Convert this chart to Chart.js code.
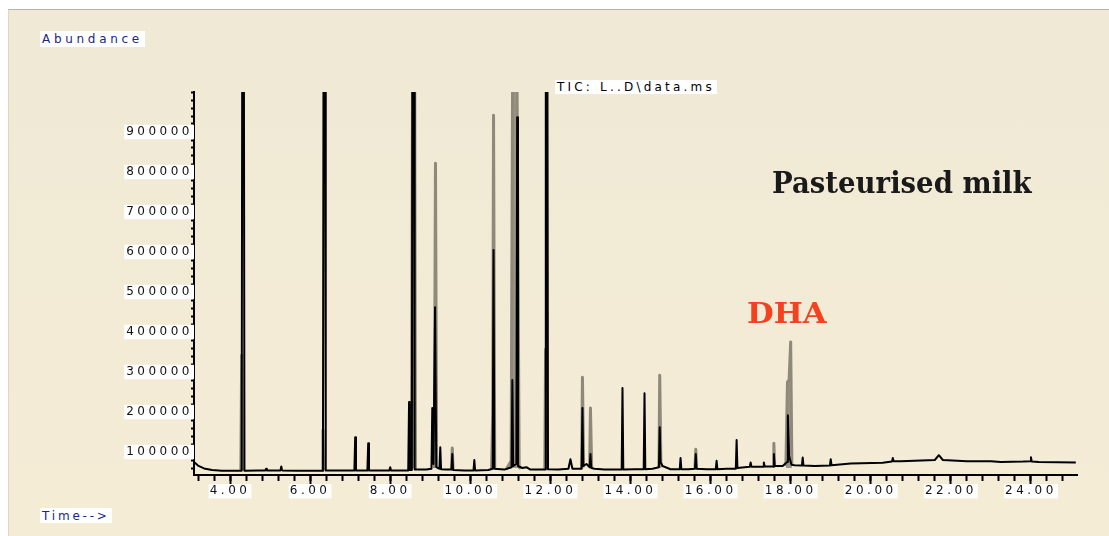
<!DOCTYPE html>
<html><head><meta charset="utf-8">
<script src="https://cdn.jsdelivr.net/npm/chart.js@4.4.0/dist/chart.umd.min.js"></script>
<style>
html,body{margin:0;padding:0;background:#fff;width:1109px;height:536px;overflow:hidden;}
#panel{position:absolute;left:8px;top:9px;width:1101px;height:527px;background:linear-gradient(#efe9d5,#f5ecd6);border-top:1px solid #b8b4a8;border-left:1px solid #dcd6c4;box-sizing:border-box;}
#c{position:absolute;left:0;top:0;}
.lbl{position:absolute;white-space:nowrap;line-height:1;}
.box{background:#fff;font-family:"DejaVu Sans",sans-serif;font-size:12px;}
#abund{left:40px;top:31px;height:16px;padding:2px 2px 0 2px;box-sizing:border-box;color:#1d2585;letter-spacing:3.7px;}
#time{left:40px;top:508px;height:15px;padding:2px 2px 0 2px;box-sizing:border-box;color:#1d2585;letter-spacing:2.8px;}
#tic{left:555px;top:80px;height:14px;padding:1px 2px 0 2px;box-sizing:border-box;color:#000;letter-spacing:3.2px;}
#title{left:772px;top:168.5px;font-family:"DejaVu Serif",serif;font-weight:bold;font-size:29px;color:#1a1a1a;transform:scaleX(0.95);transform-origin:0 0;}
#dha{left:747px;top:299.5px;font-family:"DejaVu Serif",serif;font-weight:bold;font-size:28px;color:#f4411f;transform:scaleX(1.1);transform-origin:0 0;}
</style></head>
<body>
<div id="panel"></div>
<canvas id="c" width="1109" height="536"></canvas>
<div class="lbl box" id="abund">Abundance</div>
<div class="lbl box" id="time">Time--&gt;</div>
<div class="lbl box" id="tic">TIC: L..D\data.ms</div>
<div class="lbl" id="title">Pasteurised milk</div>
<div class="lbl" id="dha">DHA</div>
<script>
// ---- data (retention time in min, abundance) ----
const blackTime = [
  3.10, 3.20, 3.35, 3.55, 3.80, 4.29, 4.305, 4.345, 4.36, 4.70,
  4.88, 4.90, 4.92, 5.26, 5.28, 5.30, 5.70, 6.32, 6.335, 6.375,
  6.39, 6.80, 7.105, 7.125, 7.145, 7.43, 7.45, 7.47, 7.98, 8.00,
  8.02, 8.45, 8.47, 8.49, 8.54, 8.555, 8.595, 8.61, 8.90, 9.03,
  9.05, 9.08, 9.12, 9.15, 9.23, 9.25, 9.27, 9.40, 9.53, 9.55,
  9.57, 9.85, 10.08, 10.10, 10.12, 10.45, 10.56, 10.58, 10.60, 10.85,
  11.03, 11.05, 11.07, 11.15, 11.17, 11.19, 11.30, 11.40, 11.50, 11.87,
  11.885, 11.925, 11.94, 12.20, 12.45, 12.50, 12.55, 12.78, 12.80, 12.82,
  12.90, 12.98, 13.00, 13.02, 13.10, 13.35, 13.78, 13.80, 13.82, 14.10,
  14.33, 14.35, 14.37, 14.55, 14.71, 14.73, 14.75, 14.80, 15.00, 15.23,
  15.25, 15.27, 15.45, 15.61, 15.63, 15.65, 15.90, 16.13, 16.15, 16.17,
  16.40, 16.63, 16.65, 16.67, 16.85, 16.98, 17.00, 17.02, 17.31, 17.33,
  17.35, 17.45, 17.56, 17.58, 17.60, 17.80, 17.91, 17.93, 17.96, 18.02,
  18.10, 18.28, 18.30, 18.32, 18.60, 18.98, 19.00, 19.02, 19.50, 20.30,
  20.53, 20.55, 20.57, 20.75, 21.60, 21.70, 21.80, 22.40, 23.00, 23.25,
  23.80, 23.98, 24.00, 24.02, 24.20, 25.12
];
const blackAbundance = [
  75000, 66000, 59000, 55000, 53000, 53000, 1150000, 1150000, 53000, 54000,
  54000, 58000, 54000, 54000, 64000, 54000, 53000, 53000, 1150000, 1150000,
  54000, 54000, 54000, 137000, 54000, 54000, 122000, 54000, 54000, 62000,
  54000, 54000, 225000, 55000, 55000, 1150000, 1150000, 56000, 56000, 58000,
  210000, 70000, 462000, 62000, 58000, 112000, 57000, 56000, 56000, 95000,
  55000, 54000, 54000, 80000, 54000, 55000, 58000, 605000, 58000, 56000,
  62000, 280000, 65000, 70000, 937000, 65000, 60000, 62000, 56000, 56000,
  1150000, 1150000, 57000, 56000, 58000, 82000, 58000, 58000, 210000, 65000,
  70000, 62000, 95000, 60000, 58000, 56000, 56000, 260000, 56000, 57000,
  57000, 247000, 57000, 58000, 62000, 162000, 75000, 65000, 57000, 57000,
  85000, 57000, 57000, 58000, 95000, 58000, 57000, 57000, 78000, 57000,
  58000, 58000, 130000, 60000, 62000, 63000, 74000, 63000, 63000, 74000,
  64000, 64000, 64000, 95000, 65000, 65000, 75000, 192000, 90000, 68000,
  67000, 66000, 86000, 66000, 65000, 66000, 82000, 67000, 71000, 73000,
  76000, 85000, 77000, 77000, 80000, 92000, 80000, 77000, 77000, 75000,
  76000, 77000, 87000, 76000, 75000, 74000
];
// lighter (grey) trace, drawn only around the peaks (null = no trace)
const greyTime = [
  4.27, 4.29, 4.31, 4.32,
  6.31, 6.32, 6.34, 6.35,
  8.53, 8.56, 8.61, 8.63, 8.64,
  9.10, 9.13, 9.16, 9.17,
  9.53, 9.55, 9.57, 9.58,
  10.53, 10.56, 10.58, 10.61, 10.62,
  10.90, 11.02, 11.06, 11.16, 11.22, 11.26, 11.27,
  11.86, 11.88, 11.90, 11.91,
  12.78, 12.80, 12.83, 12.84,
  12.98, 13.00, 13.03, 13.04,
  14.71, 14.73, 14.76, 14.77,
  15.61, 15.63, 15.65, 15.66,
  17.56, 17.58, 17.60, 17.61,
  17.88, 17.92, 17.96, 18.00, 18.03
];
const greyAbundance = [
  53000, 342000, 53000, null,
  54000, 155000, 54000, null,
  56000, 1150000, 1150000, 56000, null,
  60000, 822000, 60000, null,
  56000, 110000, 56000, null,
  58000, 197000, 942000, 58000, null,
  57000, 78000, 1150000, 1150000, 62000, 58000, null,
  56000, 357000, 56000, null,
  58000, 287000, 62000, null,
  62000, 210000, 60000, null,
  62000, 292000, 62000, null,
  58000, 107000, 58000, null,
  64000, 122000, 64000, null,
  65000, 275000, 280000, 375000, 70000
];
const xMajorTicks = [4, 6, 8, 10, 12, 14, 16, 18, 20, 22, 24];
const xTickLabels = ['4.00', '6.00', '8.00', '10.00', '12.00', '14.00', '16.00', '18.00', '20.00', '22.00', '24.00'];
const yMajorTicks = [100000, 200000, 300000, 400000, 500000, 600000, 700000, 800000, 900000];
const yTickLabels = ['100000', '200000', '300000', '400000', '500000', '600000', '700000', '800000', '900000'];
const xMin = 3.1, xMax = 25.15, yMin = 42500, yMax = 1000000;

// minor tick positions (axis decoration only)
const xMinorTicks = []; for (let k = 8; k <= 62; k++) xMinorTicks.push(Math.round(k * 0.4 * 100) / 100);
const yMinorTicks = []; for (let v = 60000; v <= 1000000; v += 20000) yMinorTicks.push(v);

const toPts = (ts, vs) => ts.map((t, i) => ({x: t, y: vs[i]}));

const spacing = {
  id: 'spacing',
  beforeLayout(chart) { chart.ctx.letterSpacing = '3.5px'; },
  beforeDraw(chart) { chart.ctx.letterSpacing = '3.5px'; }
};

const tickFont = {family: '"DejaVu Sans", sans-serif', size: 12};

new Chart(document.getElementById('c'), {
  type: 'line',
  data: {
    datasets: [
      {label: 'TIC', data: toPts(blackTime, blackAbundance), borderColor: '#000', borderWidth: 2,
       pointRadius: 0, tension: 0, borderJoinStyle: 'round', clip: 0, xAxisID: 'x', yAxisID: 'y'},
      {label: 'TIC (grey)', data: toPts(greyTime, greyAbundance), borderColor: '#8e897a', borderWidth: 3,
       backgroundColor: '#9a9584', fill: {value: 60000},
       pointRadius: 0, tension: 0, spanGaps: false, borderJoinStyle: 'round', clip: 0, xAxisID: 'x', yAxisID: 'y'}
    ]
  },
  options: {
    responsive: false, animation: false, devicePixelRatio: 1,
    layout: {padding: {left: 0, top: 92, right: 32, bottom: 0}},
    plugins: {legend: {display: false}, tooltip: {enabled: false}},
    scales: {
      x: {
        type: 'linear', position: 'bottom', min: xMin, max: xMax,
        afterBuildTicks: s => { s.ticks = xMajorTicks.map(v => ({value: v})); },
        afterFit: s => { s.height = 61; },
        grid: {drawOnChartArea: false, tickLength: 9, tickColor: '#000', tickWidth: 2},
        border: {display: true, color: '#000', width: 2},
        ticks: {autoSkip: false, maxRotation: 0, padding: 0, color: '#111', font: tickFont,
          callback: (v, i) => xTickLabels[i],
          showLabelBackdrop: true, backdropColor: '#fff', backdropPadding: {x: 1, y: 0}}
      },
      xMinor: {
        type: 'linear', axis: 'x', position: {y: yMin}, min: xMin, max: xMax,
        afterBuildTicks: s => { s.ticks = xMinorTicks.map(v => ({value: v})); },
        grid: {drawOnChartArea: false, tickLength: 6, tickColor: '#000', tickWidth: 2},
        border: {display: false},
        ticks: {display: false}
      },
      y: {
        type: 'linear', position: 'left', min: yMin, max: yMax,
        afterBuildTicks: s => { s.ticks = yMajorTicks.map(v => ({value: v})); },
        afterFit: s => { s.width = 194; },
        grid: {drawOnChartArea: false, tickLength: 4, tickColor: '#000', tickWidth: 2},
        border: {display: true, color: '#000', width: 2},
        ticks: {autoSkip: false, padding: -3, color: '#111', font: tickFont,
          callback: (v, i) => yTickLabels[i],
          showLabelBackdrop: true, backdropColor: '#fff', backdropPadding: {x: 2, y: 0}}
      },
      yMinor: {
        type: 'linear', axis: 'y', position: {x: xMin}, min: yMin, max: yMax,
        afterBuildTicks: s => { s.ticks = yMinorTicks.map(v => ({value: v})); },
        grid: {drawOnChartArea: false, tickLength: 3, tickColor: '#000', tickWidth: 2},
        border: {display: false},
        ticks: {display: false}
      }
    }
  },
  plugins: [spacing]
});
</script>
</body></html>
